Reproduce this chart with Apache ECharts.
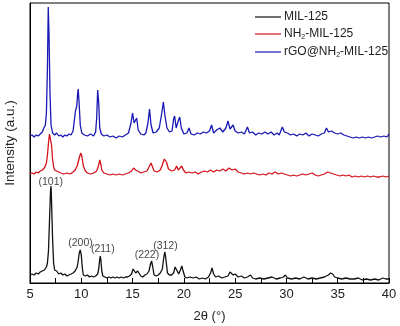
<!DOCTYPE html>
<html>
<head>
<meta charset="utf-8">
<script src="https://cdn.jsdelivr.net/npm/echarts@6/dist/echarts.min.js"></script>
<style>html,body{margin:0;padding:0;background:#fff}#c{width:400px;height:326px}</style>
</head>
<body>
<div id="c"></div>
<script>
var seriesNames = ['MIL-125', 'NH2-MIL-125', 'rGO@NH2-MIL-125'];
var seriesColors = ['#111111', '#d4121c', '#1818b4'];

var mil125 = [[5.0,8],[5.2,9],[5.4,8],[5.6,10],[5.8,9],[6.0,11],[6.2,12],[6.4,13],[6.5,15],[6.6,16],[6.7,20],[6.8,32],[6.9,62],[7.0,92],[7.05,97],[7.1,82],[7.2,45],[7.3,20],[7.4,13],[7.5,11],[7.6,12],[7.8,9],[8.0,10],[8.2,8],[8.4,9],[8.6,7],[8.8,8],[9.0,9],[9.2,10],[9.4,12],[9.5,13],[9.6,16],[9.7,22],[9.8,30],[9.9,33],[10.0,28],[10.1,15],[10.2,8],[10.4,7],[10.6,8],[10.8,6],[11.0,7],[11.2,6],[11.4,7],[11.6,9],[11.7,14],[11.8,24],[11.85,27],[11.9,24],[12.0,12],[12.1,7],[12.3,6],[12.5,5],[12.7,6],[12.9,5],[13.1,6],[13.3,5],[13.5,6],[13.7,5],[13.9,6],[14.1,5],[14.3,6],[14.5,6],[14.7,7],[14.9,9],[15.05,14],[15.15,15],[15.3,10],[15.5,12],[15.6,10],[15.8,7],[16.0,6],[16.2,8],[16.4,9],[16.6,12],[16.75,19],[16.85,22],[16.95,17],[17.1,8],[17.3,7],[17.5,8],[17.7,10],[17.9,14],[18.05,26],[18.15,31],[18.25,24],[18.4,10],[18.6,8],[18.8,8],[19.0,10],[19.15,16],[19.25,18],[19.35,12],[19.5,9],[19.7,14],[19.8,17],[19.9,13],[20.1,6],[20.3,5],[20.6,6],[20.9,5],[21.2,6],[21.5,4],[21.8,5],[22.1,4],[22.4,6],[22.6,10],[22.75,15],[22.9,9],[23.1,6],[23.4,7],[23.7,5],[24.0,6],[24.3,7],[24.5,11],[24.65,12],[24.8,8],[25.0,9],[25.3,6],[25.6,7],[25.9,5],[26.2,6],[26.5,8],[26.7,5],[27.0,4],[27.4,5],[27.8,4],[28.2,5],[28.6,6],[29.0,4],[29.4,5],[29.7,6],[29.9,8],[30.1,5],[30.5,4],[30.9,5],[31.3,4],[31.7,6],[32.1,4],[32.5,5],[32.9,4],[33.3,5],[33.7,6],[34.1,8],[34.3,10],[34.5,9],[34.7,6],[35.0,5],[35.4,4],[35.8,5],[36.2,4],[36.6,4],[37.0,5],[37.4,3],[37.8,4],[38.2,3],[38.6,4],[39.0,3],[39.4,5],[39.7,4],[40.0,4]];

var nh2mil125 = [[5.0,109],[5.2,110],[5.4,109],[5.6,111],[5.8,110],[6.0,112],[6.2,113],[6.4,115],[6.5,117],[6.6,120],[6.7,128],[6.8,140],[6.9,149],[6.95,151],[7.0,149],[7.1,138],[7.2,124],[7.3,116],[7.4,113],[7.6,112],[7.8,111],[8.0,110],[8.3,109],[8.6,110],[8.9,109],[9.2,111],[9.4,113],[9.6,117],[9.8,125],[9.95,130],[10.05,127],[10.2,117],[10.4,112],[10.6,110],[10.9,109],[11.2,110],[11.5,112],[11.7,118],[11.8,123],[11.9,119],[12.0,113],[12.2,110],[12.5,109],[12.8,108],[13.1,109],[13.4,108],[13.7,109],[14.0,108],[14.3,109],[14.6,110],[14.9,112],[15.1,115],[15.3,113],[15.5,112],[15.8,110],[16.1,111],[16.4,112],[16.6,116],[16.8,120],[16.95,116],[17.1,112],[17.4,111],[17.7,113],[17.9,118],[18.1,124],[18.2,126],[18.3,121],[18.5,114],[18.8,112],[19.1,113],[19.3,117],[19.45,113],[19.6,112],[19.8,117],[19.95,113],[20.2,110],[20.5,111],[20.8,110],[21.1,111],[21.4,109],[21.7,111],[22.0,112],[22.3,111],[22.6,113],[22.9,111],[23.2,113],[23.5,112],[23.8,114],[24.1,112],[24.4,115],[24.7,113],[25.0,114],[25.3,111],[25.6,110],[25.9,109],[26.2,110],[26.5,109],[26.8,110],[27.1,109],[27.4,108],[27.7,109],[28.0,108],[28.3,110],[28.6,109],[28.9,111],[29.2,109],[29.5,110],[29.8,109],[30.1,108],[30.4,107],[30.7,108],[31.0,107],[31.3,108],[31.6,109],[31.9,108],[32.2,109],[32.5,110],[32.8,108],[33.1,107],[33.4,108],[33.7,109],[34.0,111],[34.3,110],[34.6,109],[34.9,108],[35.2,107],[35.5,108],[35.8,107],[36.1,108],[36.4,106],[36.7,107],[37.0,106],[37.3,107],[37.6,106],[37.9,107],[38.2,106],[38.5,107],[38.8,106],[39.1,106],[39.4,107],[39.7,106],[40.0,107]];

var rgoNh2mil125 = [[5.0,147],[5.2,148],[5.4,146],[5.6,148],[5.8,147],[6.0,149],[6.2,151],[6.35,155],[6.5,158],[6.6,170],[6.7,215],[6.78,276],[6.85,250],[6.95,190],[7.05,158],[7.2,150],[7.4,148],[7.6,150],[7.8,147],[8.0,148],[8.2,146],[8.4,148],[8.6,147],[8.8,149],[9.0,148],[9.2,152],[9.35,165],[9.45,173],[9.55,176],[9.65,190],[9.7,194],[9.8,178],[9.9,158],[10.05,150],[10.3,148],[10.6,147],[10.9,149],[11.2,147],[11.4,151],[11.5,165],[11.6,193],[11.7,180],[11.8,155],[11.95,149],[12.2,147],[12.5,148],[12.8,146],[13.1,147],[13.4,145],[13.7,147],[14.0,146],[14.3,148],[14.6,150],[14.85,160],[15.0,170],[15.15,160],[15.25,160],[15.4,165],[15.55,153],[15.8,149],[16.1,148],[16.3,150],[16.5,160],[16.65,174],[16.8,158],[17.0,150],[17.3,151],[17.6,155],[17.85,170],[18.0,181],[18.15,168],[18.35,155],[18.6,151],[18.85,152],[19.0,164],[19.1,167],[19.25,155],[19.45,162],[19.6,166],[19.75,155],[20.0,149],[20.3,150],[20.5,155],[20.7,149],[21.0,148],[21.3,150],[21.6,149],[21.9,151],[22.2,150],[22.5,152],[22.7,158],[22.9,150],[23.2,153],[23.5,155],[23.8,151],[24.1,155],[24.3,162],[24.5,154],[24.8,158],[25.0,152],[25.3,150],[25.6,151],[25.9,149],[26.2,156],[26.4,150],[26.7,151],[27.0,148],[27.3,150],[27.6,149],[27.9,151],[28.2,149],[28.5,151],[28.8,148],[29.1,150],[29.3,148],[29.6,156],[29.8,151],[30.1,150],[30.4,148],[30.7,149],[31.0,147],[31.3,149],[31.6,148],[31.9,150],[32.2,147],[32.5,149],[32.8,148],[33.1,147],[33.4,149],[33.7,150],[33.9,155],[34.1,151],[34.4,152],[34.7,150],[35.0,149],[35.3,150],[35.6,148],[35.9,147],[36.2,146],[36.5,145],[36.8,146],[37.1,145],[37.4,146],[37.7,145],[38.0,146],[38.3,145],[38.6,146],[38.9,147],[39.2,146],[39.5,147],[39.8,146],[40.0,149]];

var hklLabels = ['(101)', '(200)', '(211)', '(222)', '(312)'];
var hklX = [7.02, 9.92, 12.1, 16.4, 18.2];
var hklY = [101, 40, 34, 28, 37];

var xTicks = [5, 10, 15, 20, 25, 30, 35, 40];

var FONT = '"Liberation Sans", Arial, sans-serif';
var chart = echarts.init(document.getElementById('c'), null, {renderer: 'canvas'});

function legendFmt(name) {
  if (name === 'NH2-MIL-125') return '{t|NH}{s|2}{t|-MIL-125}';
  if (name === 'rGO@NH2-MIL-125') return '{t|rGO@NH}{s|2}{t|-MIL-125}';
  return '{t|' + name + '}';
}

var allData = [mil125, nh2mil125, rgoNh2mil125];
var series = allData.map(function (d, i) {
  return {
    name: seriesNames[i],
    type: 'line',
    data: d,
    showSymbol: false,
    symbol: 'none',
    lineStyle: {width: 1.3, color: seriesColors[i]},
    itemStyle: {color: seriesColors[i]},
    z: 3 - i
  };
});
series.push({
  name: 'hkl',
  type: 'scatter',
  symbolSize: 0,
  silent: true,
  data: hklX.map(function (x, i) { return [x, hklY[i], hklLabels[i]]; }),
  label: {
    show: true,
    position: 'inside',
    formatter: function (p) { return p.data[2]; },
    fontFamily: FONT,
    fontSize: 10.5,
    color: '#111'
  }
});

chart.setOption({
  animation: false,
  backgroundColor: '#fff',
  grid: {left: 30, right: 11, top: 3, bottom: 43, outerBoundsMode: 'none', containLabel: false, show: true, borderColor: '#000', borderWidth: 1, backgroundColor: 'transparent'},
  legend: {
    data: seriesNames,
    orient: 'vertical',
    left: 250,
    top: 6,
    itemWidth: 26,
    itemHeight: 1.2,
    itemGap: 5,
    icon: 'rect',
    formatter: legendFmt,
    textStyle: {
      fontFamily: FONT,
      fontSize: 12,
      color: '#222',
      padding: [0, 0, 0, -2],
      rich: {
        t: {fontFamily: FONT, fontSize: 12, color: '#222'},
        s: {fontFamily: FONT, fontSize: 7, color: '#222', padding: [7, 0, 0, 0]}
      }
    }
  },
  xAxis: {
    type: 'value',
    min: 5,
    max: 40,
    interval: 5,
    name: '2θ (°)',
    nameLocation: 'middle',
    nameGap: 27,
    nameTextStyle: {fontFamily: FONT, fontSize: 13, color: '#222'},
    axisLine: {show: true, lineStyle: {color: '#000', width: 1}},
    axisTick: {show: true, inside: true, length: 5, lineStyle: {color: '#000'}},
    minorTick: {show: true, splitNumber: 2, length: 5, lineStyle: {color: '#000'}},
    axisLabel: {
      fontFamily: FONT, fontSize: 13, color: '#222', margin: 5,
      customValues: xTicks
    },
    splitLine: {show: false},
    minorSplitLine: {show: false}
  },
  yAxis: {
    type: 'value',
    min: 0,
    max: 280,
    name: 'Intensity (a.u.)',
    nameLocation: 'middle',
    nameGap: 13,
    nameTextStyle: {fontFamily: FONT, fontSize: 13.5, color: '#222'},
    axisLine: {show: true, lineStyle: {color: '#000', width: 1}},
    axisTick: {show: false},
    axisLabel: {show: false},
    splitLine: {show: false}
  },
  series: series
});
</script>
</body>
</html>
